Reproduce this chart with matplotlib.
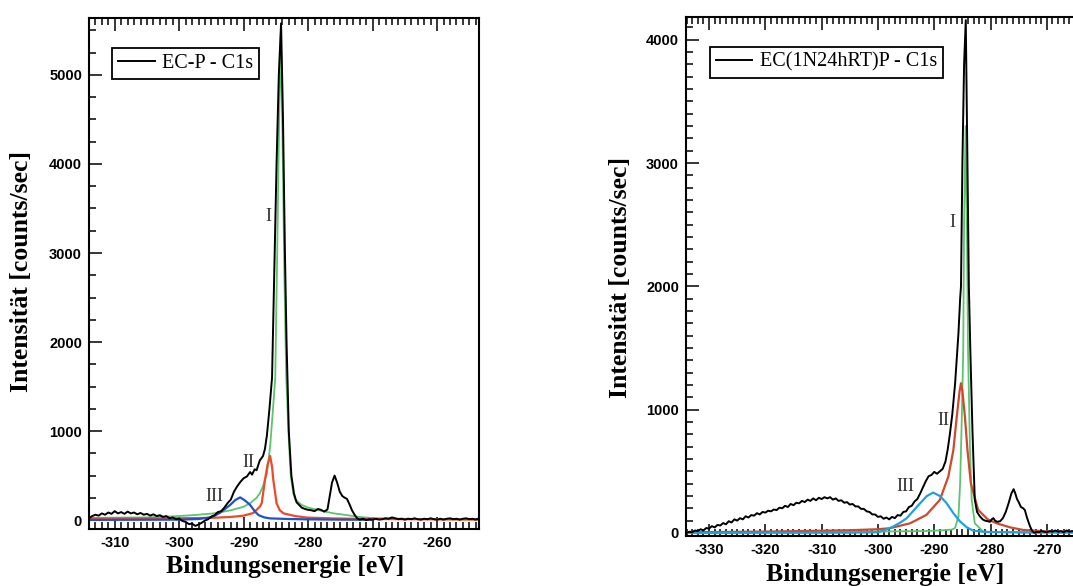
import matplotlib
matplotlib.use('Agg')
import matplotlib.pyplot as plt
from matplotlib.ticker import MultipleLocator

plt.rcParams['axes.unicode_minus'] = False

# ---- left panel: EC-P - C1s ----
e_black_l = [-314.0, -313.5, -313.0, -312.5, -312.0, -311.5, -311.0, -310.5, -310.0, -309.5,
             -309.0, -308.5, -308.0, -307.5, -307.0, -306.5, -306.0, -305.5, -305.0, -304.5,
             -304.0, -303.5, -303.0, -302.5, -302.0, -301.5, -301.0, -300.5, -300.0, -299.5,
             -299.0, -298.5, -298.0, -297.5, -297.0, -296.5, -296.0, -295.5, -295.0, -294.5,
             -294.0, -293.5, -293.0, -292.5, -292.0, -291.5, -291.0, -290.5, -290.0, -289.5,
             -289.0, -288.7, -288.3, -288.0, -287.5, -287.0, -286.7, -286.4, -286.0, -285.6,
             -285.2, -284.9, -284.55, -284.2, -283.9, -283.6, -283.35, -283.0, -282.6, -282.2,
             -281.8, -281.0, -280.5, -280.0, -279.5, -279.0, -278.5, -278.0, -277.5, -277.0,
             -276.7, -276.3, -275.9, -275.5, -275.1, -274.7, -274.3, -274.0, -273.6, -273.2,
             -272.8, -272.4, -272.0, -271.5, -271.0, -270.5, -270.0, -269.5, -269.0, -268.5,
             -268.0, -267.5, -267.0, -266.5, -266.0, -265.5, -265.0, -264.5, -264.0, -263.5,
             -263.0, -262.5, -262.0, -261.5, -261.0, -260.5, -260.0, -259.5, -259.0, -258.5,
             -258.0, -257.5, -257.0, -256.5, -256.0, -255.5, -255.0, -254.5, -254.0, -253.5]
i_black_l = [20, 45, 60, 50, 75, 60, 85, 70, 100, 75,
             90, 70, 95, 75, 85, 65, 80, 60, 70, 50,
             65, 45, 55, 35, 45, 20, 30, 10, 15, -10,
             -20, -45, -40, -65, -50, -30, -5, 10, 40, 55,
             90, 100, 140, 190, 230, 320, 380, 430, 470, 490,
             540, 510, 570, 560, 670, 720, 800, 950, 1250, 1600,
             3000, 4000, 5000, 5580, 4500, 3000, 2000, 1000, 500, 300,
             200, 140, 125, 115, 110, 100, 125, 115, 95, 120,
             250, 420, 500, 420, 320, 270, 250, 240, 180, 110,
             60, 20, 5, 15, 0, 10, 5, 15, 5, 10,
             20, 15, 30, 20, 10, 15, 5, 15, 10, 20,
             10, 5, 15, 10, 20, 10, 5, 15, 5, 15,
             20, 10, 15, 5, 15, 20, 10, 15, 5, 20]

e_green_l = [-314.0, -305.0, -300.0, -297.0, -294.7, -292.0, -290.0, -289.0, -288.0, -287.5,
             -287.0, -286.4, -285.9, -285.5, -285.1, -284.8, -284.5, -284.25, -284.0, -283.7,
             -283.4, -283.0, -282.7, -282.3, -282.0, -281.0, -280.0, -278.0, -276.0, -274.0,
             -272.0, -270.0, -265.0, -260.0, -253.5]
i_green_l = [25, 30, 45, 60, 75, 110, 150, 190, 250, 300,
             380, 524, 824, 1200, 1600, 3000, 4500, 5450, 4400, 2800,
             1600, 900, 500, 300, 230, 170, 140, 105, 75, 56,
             35, 22, 15, 10, 8]

e_red_l = [-314.0, -300.0, -295.0, -292.0, -290.0, -288.5, -287.5, -287.2, -286.7, -286.3,
           -285.9, -285.6, -285.4, -284.9, -284.4, -283.8, -282.0, -280.2, -276.0, -270.0,
           -260.0, -253.5]
i_red_l = [15, 20, 25, 35, 50, 80, 150, 190, 450, 620,
           720, 600, 450, 190, 110, 75, 45, 28, 18, 12,
           8, 6]

e_blue_l = [-314.0, -300.0, -297.0, -295.2, -294.5, -293.7, -292.9, -292.1, -291.3, -290.55,
            -289.8, -289.0, -288.3, -287.7, -286.8, -285.9, -283.0, -280.0, -275.0, -270.0]
i_blue_l = [2, 5, 12, 30, 50, 80, 125, 170, 225, 255,
            220, 170, 100, 56, 30, 19, 12, 8, 5, 3]

# ---- right panel: EC(1N24hRT)P - C1s ----
e_black_r = [-334.0, -333.5, -333.0, -332.5, -332.0, -331.5, -331.0, -330.5, -330.0, -329.5,
             -329.0, -328.5, -328.0, -327.5, -327.0, -326.5, -326.0, -325.5, -325.0, -324.5,
             -324.0, -323.5, -323.0, -322.5, -322.0, -321.5, -321.0, -320.5, -320.0, -319.5,
             -319.0, -318.5, -318.0, -317.5, -317.0, -316.5, -316.0, -315.5, -315.0, -314.5,
             -314.0, -313.5, -313.0, -312.5, -312.0, -311.5, -311.0, -310.5, -310.0, -309.5,
             -309.0, -308.5, -308.0, -307.5, -307.0, -306.5, -306.0, -305.5, -305.0, -304.5,
             -304.0, -303.5, -303.0, -302.5, -302.0, -301.5, -301.0, -300.5, -300.0, -299.5,
             -299.0, -298.5, -298.0, -297.5, -297.0, -296.5, -296.0, -295.5, -295.0, -294.5,
             -294.0, -293.5, -293.0, -292.5, -292.0, -291.5, -291.0, -290.5, -290.0, -289.5,
             -289.0, -288.5, -288.0, -287.6, -287.2, -286.8, -286.3, -285.7, -285.4, -285.25,
             -285.0, -284.7, -284.4, -284.1, -283.85, -283.6, -283.2, -282.8, -282.4, -281.9,
             -281.4, -281.0, -280.5, -280.1, -279.8, -279.5, -279.2, -278.8, -278.3, -277.8,
             -277.3, -276.8, -276.3, -275.9, -275.6, -275.3, -275.0, -274.6, -274.2, -273.9,
             -273.5, -273.0, -272.6, -272.2, -271.8, -271.4, -271.0, -270.5, -270.0, -269.5,
             -269.0, -268.5, -268.0, -267.5, -267.0, -266.5, -266.0, -265.5, -265.0, -264.5,
             -264.0]
i_black_r = [0, 10, 5, 20, 15, 30, 20, 40, 35, 55,
             45, 65, 60, 80, 70, 95, 85, 110, 100, 120,
             110, 135, 125, 145, 140, 160, 150, 170, 165, 180,
             175, 190, 185, 205, 200, 220, 210, 235, 225, 245,
             240, 260, 250, 270, 260, 280, 265, 285, 275, 290,
             280, 290, 270, 280, 260, 265, 245, 250, 230, 235,
             215, 215, 195, 195, 175, 170, 150, 150, 130, 135,
             115, 125, 110, 130, 120, 145, 140, 170, 175, 210,
             220, 255, 275, 320, 370, 420, 460, 470, 495, 480,
             500, 520, 580, 680, 810, 960, 1210, 1620, 1900, 2000,
             3000, 3800, 4160, 3000, 2000, 1500, 810, 270, 170, 135,
             110, 100, 95, 90, 110, 120, 100, 90, 95, 120,
             170, 240, 320, 355, 320, 275, 250, 210, 200, 185,
             120, 55, 15, 0, 10, 5, 15, 10, 5, 15,
             10, 20, 10, 15, 5, 20, 10, 15, 10, 15,
             10]

e_green_r = [-334.0, -320.0, -305.0, -298.0, -292.0, -289.0, -287.5, -286.8, -286.3, -285.7,
             -285.4, -285.1, -284.85, -284.7, -284.43, -284.2, -284.0, -283.65, -283.35, -282.8,
             -281.3, -280.0, -270.0, -264.0]
i_green_r = [5, 8, 10, 12, 15, 20, 25, 28, 40, 132,
             403, 943, 1484, 2500, 3300, 2500, 1484, 673, 268, 78,
             11, 8, 5, 5]

e_red_r = [-334.0, -318.0, -310.0, -305.0, -300.0, -297.9, -294.3, -291.4, -289.0, -287.5,
           -286.6, -286.0, -285.5, -285.25, -285.0, -284.55, -284.1, -283.5, -282.2, -280.5,
           -278.9, -276.5, -274.2, -270.0, -264.0]
i_red_r = [5, 12, 18, 22, 30, 38, 78, 146, 268, 457,
           673, 943, 1150, 1214, 1150, 943, 673, 403, 187, 110,
           78, 45, 24, 12, 8]

e_blue_r = [-334.0, -305.0, -300.0, -299.6, -298.5, -297.3, -296.0, -294.9, -293.7, -292.5,
            -291.3, -290.2, -289.0, -287.8, -286.6, -285.4, -284.2, -283.1, -281.0, -275.0,
            -264.0]
i_blue_r = [0, 2, 6, 11, 28, 51, 85, 119, 180, 241,
            300, 327, 300, 241, 160, 92, 45, 19, 8, 4,
            2]

serif = 'Liberation Serif'
sans = 'Liberation Sans'

fig = plt.figure(figsize=(10.73, 5.86), dpi=100)
ax1 = fig.add_axes([0.0829, 0.0973, 0.3635, 0.872])
ax2 = fig.add_axes([0.6393, 0.0853, 0.3678, 0.8857])


def style_axes(ax, xlim, ylim, ymajor, yminor, xticks):
    ax.set_xlim(*xlim)
    ax.set_ylim(*ylim)
    ax.set_xticks(xticks)
    ax.xaxis.set_minor_locator(MultipleLocator(1))
    ax.yaxis.set_major_locator(MultipleLocator(ymajor))
    ax.yaxis.set_minor_locator(MultipleLocator(yminor))
    ax.tick_params(which='both', direction='in', top=True, right=False, width=1.1)
    ax.tick_params(which='major', length=9, labelsize=10.5, pad=5)
    ax.tick_params(which='minor', length=5)
    for lab in ax.get_xticklabels() + ax.get_yticklabels():
        lab.set_fontfamily(sans)
        lab.set_fontweight('bold')
    for s in ax.spines.values():
        s.set_linewidth(1.5)


peak_font = dict(fontfamily=serif, fontsize=13, color='#333333', ha='center', va='center')

# left panel
ax1.plot(e_green_l, i_green_l, color='#5cc46c', lw=1.3)
ax1.plot(e_red_l, i_red_l, color='#ee4a2a', lw=1.6)
ax1.plot(e_blue_l, i_blue_l, color='#2150c8', lw=1.6)
ax1.plot(e_black_l, i_black_l, color='black', lw=1.4, label='EC-P - C1s')
style_axes(ax1, (-314, -253.5), (-100, 5640), 1000, 250, [-310, -300, -290, -280, -270, -260])
ax1.text(-286.15, 3408, 'I', **peak_font)
ax1.text(-289.3, 644, 'II', **peak_font)
ax1.text(-294.6, 270, 'III', **peak_font)

# right panel
ax2.plot(e_green_r, i_green_r, color='#5cc46c', lw=1.3)
ax2.plot(e_red_r, i_red_r, color='#cc4a30', lw=1.6)
ax2.plot(e_blue_r, i_blue_r, color='#1ea2de', lw=1.6)
ax2.plot(e_black_r, i_black_r, color='black', lw=1.4, label='EC(1N24hRT)P - C1s')
style_axes(ax2, (-334.1, -264.0), (-25, 4185), 1000, 100, [-330, -320, -310, -300, -290, -280, -270])
ax2.text(-286.8, 2517, 'I', **peak_font)
ax2.text(-288.4, 911, 'II', **peak_font)
ax2.text(-295.1, 376, 'III', **peak_font)

for ax, anchor in [(ax1, (0.0597, 0.9407)), (ax2, (0.0608, 0.9428))]:
    leg = ax.legend(loc='upper left', bbox_to_anchor=anchor, borderaxespad=0,
                    prop={'family': serif, 'size': 14.5}, fancybox=False,
                    handlelength=1.8, handletextpad=0.37, borderpad=0.3,
                    framealpha=1, edgecolor='black')
    leg.get_frame().set_linewidth(1.3)

# axis titles
label_font = dict(fontfamily=serif, fontweight='bold', fontsize=18.5, ha='center', va='center')
fig.text(22 / 1073, 1 - 272 / 586, 'Intensität [counts/sec]', rotation=90, **label_font)
fig.text(620 / 1073, 1 - 277 / 586, 'Intensität [counts/sec]', rotation=90, **label_font)
fig.text(285 / 1073, 1 - 567 / 586, 'Bindungsenergie [eV]', **label_font)
fig.text(885 / 1073, 1 - 575 / 586, 'Bindungsenergie [eV]', **label_font)

fig.savefig('out.png', dpi=100)
